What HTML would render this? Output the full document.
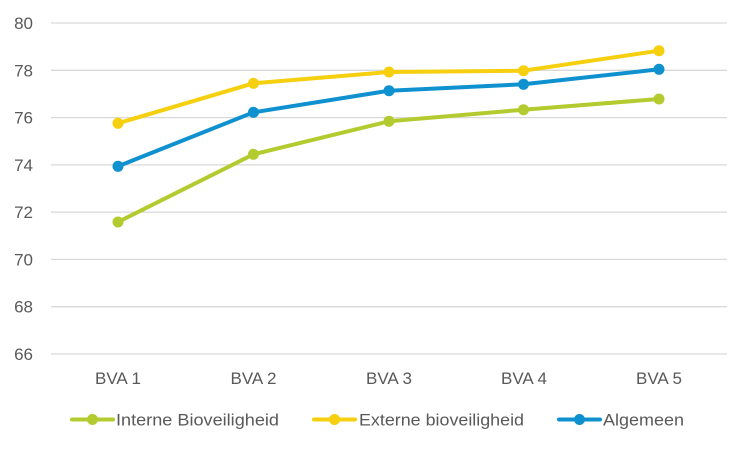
<!DOCTYPE html>
<html>
<head>
<meta charset="utf-8">
<style>
  html,body{margin:0;padding:0;background:#fff;}
  svg{display:block;}
  text{font-family:"Liberation Sans",sans-serif;fill:#595959;}
</style>
</head>
<body>
<svg width="750" height="450" viewBox="0 0 750 450" xmlns="http://www.w3.org/2000/svg">
  <rect width="750" height="450" fill="#fff"/>
  <!-- gridlines -->
  <g stroke="#d9d9d9" stroke-width="1.3">
    <line x1="51" y1="23" x2="727" y2="23"/>
    <line x1="51" y1="70.3" x2="727" y2="70.3"/>
    <line x1="51" y1="117.6" x2="727" y2="117.6"/>
    <line x1="51" y1="164.9" x2="727" y2="164.9"/>
    <line x1="51" y1="212.1" x2="727" y2="212.1"/>
    <line x1="51" y1="259.4" x2="727" y2="259.4"/>
    <line x1="51" y1="306.7" x2="727" y2="306.7"/>
    <line x1="51" y1="354" x2="727" y2="354"/>
  </g>
  <!-- y labels -->
  <g font-size="17" text-anchor="end">
    <text x="33" y="29">80</text>
    <text x="33" y="76.3">78</text>
    <text x="33" y="123.6">76</text>
    <text x="33" y="170.9">74</text>
    <text x="33" y="218.1">72</text>
    <text x="33" y="265.4">70</text>
    <text x="33" y="312.7">68</text>
    <text x="33" y="360">66</text>
  </g>
  <!-- x labels -->
  <g font-size="17" text-anchor="middle">
    <text x="118" y="384">BVA 1</text>
    <text x="253.5" y="384">BVA 2</text>
    <text x="389" y="384">BVA 3</text>
    <text x="524" y="384">BVA 4</text>
    <text x="659" y="384">BVA 5</text>
  </g>
  <!-- series -->
  <g fill="none" stroke-width="4" stroke-linejoin="round" stroke-linecap="round">
    <polyline stroke="#B4CB30" points="118,222 253.5,154.3 389,121.3 523.5,109.7 659,99"/>
    <polyline stroke="#F6CF0F" points="118,123.3 253.5,83.3 389,72 523.5,70.7 659,50.7"/>
    <polyline stroke="#0F91CF" points="118,166.3 253.5,112.3 389,90.7 523.5,84.3 659,69.3"/>
  </g>
  <g fill="#B4CB30">
    <circle cx="118" cy="222" r="5.5"/><circle cx="253.5" cy="154.3" r="5.5"/><circle cx="389" cy="121.3" r="5.5"/><circle cx="523.5" cy="109.7" r="5.5"/><circle cx="659" cy="99" r="5.5"/>
  </g>
  <g fill="#F6CF0F">
    <circle cx="118" cy="123.3" r="5.5"/><circle cx="253.5" cy="83.3" r="5.5"/><circle cx="389" cy="72" r="5.5"/><circle cx="523.5" cy="70.7" r="5.5"/><circle cx="659" cy="50.7" r="5.5"/>
  </g>
  <g fill="#0F91CF">
    <circle cx="118" cy="166.3" r="5.5"/><circle cx="253.5" cy="112.3" r="5.5"/><circle cx="389" cy="90.7" r="5.5"/><circle cx="523.5" cy="84.3" r="5.5"/><circle cx="659" cy="69.3" r="5.5"/>
  </g>
  <!-- legend -->
  <g stroke-width="4" stroke-linecap="round">
    <line x1="72" y1="419.5" x2="113" y2="419.5" stroke="#B4CB30"/>
    <line x1="314" y1="419.5" x2="355" y2="419.5" stroke="#F6CF0F"/>
    <line x1="559" y1="419.5" x2="600" y2="419.5" stroke="#0F91CF"/>
  </g>
  <circle cx="92.5" cy="419.5" r="5.5" fill="#B4CB30"/>
  <circle cx="334.5" cy="419.5" r="5.5" fill="#F6CF0F"/>
  <circle cx="579.5" cy="419.5" r="5.5" fill="#0F91CF"/>
  <g font-size="17">
    <text x="116" y="425.5" textLength="163" lengthAdjust="spacingAndGlyphs">Interne Bioveiligheid</text>
    <text x="359" y="425.5" textLength="165" lengthAdjust="spacingAndGlyphs">Externe bioveiligheid</text>
    <text x="603" y="425.5" textLength="81" lengthAdjust="spacingAndGlyphs">Algemeen</text>
  </g>
</svg>
</body>
</html>
